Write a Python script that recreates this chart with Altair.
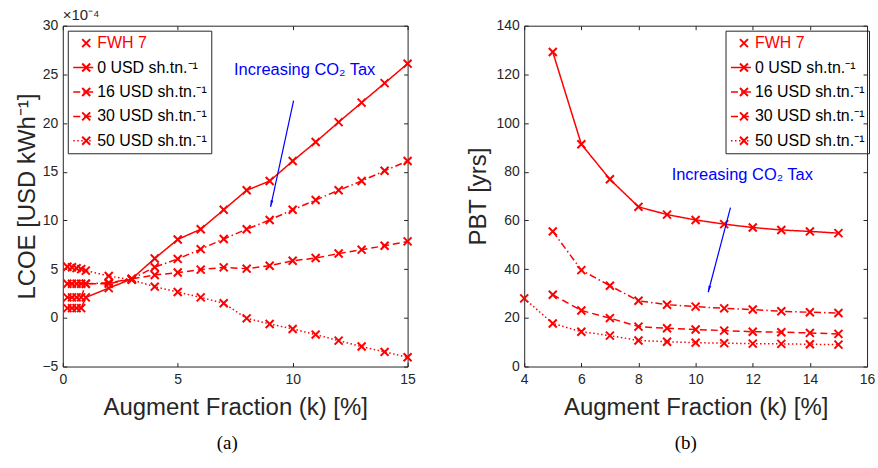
import math
import altair as alt
import pandas as pd

RED = "#ff0000"
BLUE = "#0000ff"
INK = "#262626"
FONT = "Liberation Sans"

SERIES = ["0 USD sh.tn.⁻¹", "16 USD sh.tn.⁻¹", "30 USD sh.tn.⁻¹", "50 USD sh.tn.⁻¹"]
MARKER_LABEL = "FWH 7"
LEGEND_DOMAIN = [MARKER_LABEL] + SERIES

# ---------------- panel (a): LCOE (x 1e-4 USD/kWh) ----------------
k_a = [0.2, 0.4, 0.6, 0.8, 1, 2, 3, 4, 5, 6, 7, 8, 9, 10, 11, 12, 13, 14, 15]
lcoe_0 = [1.0, 1.0, 1.0, 1.0, 2.1, 3.05, 4.0, 6.1, 8.05, 9.1, 11.1, 13.1, 14.05, 16.1, 18.05, 20.1, 22.1, 24.1, 26.1]
lcoe_16 = [2.1, 2.1, 2.1, 2.1, 3.5, 3.6, 4.0, 5.2, 6.05, 7.05, 8.1, 9.1, 10.05, 11.1, 12.1, 13.1, 14.05, 15.1, 16.1]
lcoe_30 = [3.5, 3.5, 3.5, 3.5, 3.5, 3.5, 4.0, 4.4, 4.65, 4.95, 5.18, 5.05, 5.35, 5.86, 6.14, 6.6, 7.0, 7.4, 7.85]
lcoe_50 = [5.25, 5.2, 5.1, 5.0, 4.85, 4.3, 3.9, 3.2, 2.65, 2.1, 1.5, -0.05, -0.63, -1.14, -1.72, -2.34, -2.95, -3.5, -4.05]

# ---------------- panel (b): PBT (years) ----------------
k_b = [4, 5, 6, 7, 8, 9, 10, 11, 12, 13, 14, 15]
pbt_0 = [None, 129.2, 91.3, 76.9, 65.6, 62.4, 60.2, 58.5, 57.1, 56.1, 55.5, 54.8]
pbt_16 = [None, 55.5, 39.6, 33.2, 27.0, 25.4, 24.6, 23.9, 23.4, 22.7, 22.3, 22.0]
pbt_30 = [None, 29.5, 23.0, 19.9, 16.4, 15.7, 15.2, 14.75, 14.3, 14.1, 13.8, 13.4]
pbt_50 = [28.0, 17.7, 14.3, 12.7, 10.7, 10.2, 9.8, 9.6, 9.4, 9.3, 9.15, 9.0]

# annotations ("Increasing CO2 Tax" text anchor, arrow start, arrow end) in data units
ANNOT_TEXT = "Increasing CO₂ Tax"
ann_a_text = (7.45, 25.4)
ann_a_arrow = (10.04, 22.3, 9.04, 11.4)
ann_b_text = (9.16, 78.5)
ann_b_arrow = (11.22, 65.3, 10.44, 30.5)

# axis setup
xdom_a, ydom_a = [0, 15], [-5, 30]
xdom_b, ydom_b = [4, 16], [0, 140]
xticks_a, yticks_a = [0, 5, 10, 15], [-5, 0, 5, 10, 15, 20, 25, 30]
xticks_b, yticks_b = [4, 6, 8, 10, 12, 14, 16], [0, 20, 40, 60, 80, 100, 120, 140]

W_A, W_B, H = 346, 344, 342

X_PATH = "M-1,-1L1,1M-1,1L1,-1"
HEAD_PATH = "M0,0L-0.45,2.2L0.45,2.2Z"
DASHES = [[0, 100], [1, 0], [7, 3, 1.5, 3], [7, 4], [1.5, 2.5]]


def long_frame(k, columns):
    rows = []
    for name, vals in zip(SERIES, columns):
        for kk, v in zip(k, vals):
            if v is not None:
                # "marker" carries the same names with a trailing space so that the
                # marker legend stays separate from the line-style legend
                rows.append({"k": kk, "v": v, "series": name, "marker": name + " "})
    return pd.DataFrame(rows)


def panel(df, xdom, ydom, xticks, yticks, width, ytitle, text_pos, arrow, leg_x, leg_y, caption, cap_dx,
          ytitle_pad, exponent=None):
    xs = alt.Scale(domain=xdom, nice=False, zero=False)
    ys = alt.Scale(domain=ydom, nice=False, zero=False)

    main_x = alt.Axis(values=xticks, title="Augment Fraction (k) [%]", orient="bottom", offset=-4,
                      tickSize=4, labelPadding=6, titlePadding=9, format="d", labelFlush=False)
    main_y = alt.Axis(values=yticks, title=ytitle, orient="left", offset=-4, tickSize=4,
                      labelPadding=5, titlePadding=ytitle_pad, format="d", labelFlush=False)

    leg_lines = alt.Legend(
        orient="none", legendX=leg_x, legendY=leg_y, title=None, symbolType="stroke",
        symbolSize=400, symbolStrokeWidth=1.5, symbolStrokeColor=RED, labelFont=FONT,
        labelFontSize=16, clipHeight=16, rowPadding=8.5, padding=4.5,
        strokeColor=INK, labelOffset=3, labelLimit=300,
        labelColor=alt.ExprRef("datum.label === 'FWH 7' ? '#ff0000' : '#000000'"),
    )
    leg_marks = alt.Legend(
        orient="none", legendX=leg_x + 6, legendY=leg_y, title=None, symbolSize=64,
        symbolStrokeWidth=2, symbolStrokeColor=RED, symbolFillColor="transparent",
        symbolType=X_PATH,
        labelFont=FONT, labelFontSize=16, labelOpacity=0, clipHeight=16, rowPadding=8.5,
        padding=4.5, labelOffset=3,
    )

    base = alt.Chart(df)
    lines = base.mark_line(color=RED, strokeWidth=1.5).encode(
        x=alt.X("k:Q", scale=xs, axis=main_x),
        y=alt.Y("v:Q", scale=ys, axis=main_y),
        strokeDash=alt.StrokeDash("series:N", scale=alt.Scale(domain=LEGEND_DOMAIN, range=DASHES), legend=leg_lines),
        detail="series:N",
    )
    pts = base.mark_point(stroke=RED, strokeWidth=2, filled=False, size=64, opacity=1).encode(
        x=alt.X("k:Q", scale=xs, axis=None),
        y=alt.Y("v:Q", scale=ys, axis=None),
        shape=alt.Shape("marker:N", scale=alt.Scale(domain=[n + " " for n in LEGEND_DOMAIN], range=[X_PATH] * 5),
                        legend=leg_marks),
    )

    # inward ticks on top / right edges
    ticks = base.mark_point(opacity=0).encode(
        x=alt.X("k:Q", scale=xs, axis=alt.Axis(orient="top", values=xticks, offset=-4, tickSize=4,
                                                labels=False, title=None, domain=False)),
        y=alt.Y("v:Q", scale=ys, axis=alt.Axis(orient="right", values=yticks, offset=-4, tickSize=4,
                                                labels=False, title=None, domain=False)),
    )

    ann_df = pd.DataFrame({"x": [text_pos[0]], "y": [text_pos[1]], "t": [ANNOT_TEXT]})
    txt = alt.Chart(ann_df).mark_text(color=BLUE, font=FONT, fontSize=16.5, align="left", baseline="middle").encode(
        x=alt.X("x:Q", scale=xs, axis=None), y=alt.Y("y:Q", scale=ys, axis=None), text="t:N")

    # arrow angle (screen space) derived from data and scale extents
    dxp = (arrow[2] - arrow[0]) * width / (xdom[1] - xdom[0])
    dyp = -(arrow[3] - arrow[1]) * H / (ydom[1] - ydom[0])
    ang = (math.degrees(math.atan2(dxp, -dyp)) + 360) % 360
    arr_df = pd.DataFrame({"x": [arrow[0]], "y": [arrow[1]], "x2": [arrow[2]], "y2": [arrow[3]]})
    shaft = alt.Chart(arr_df).mark_rule(color=BLUE, strokeWidth=1.2).encode(
        x=alt.X("x:Q", scale=xs, axis=None), y=alt.Y("y:Q", scale=ys, axis=None), x2="x2:Q", y2="y2:Q")
    head = alt.Chart(arr_df).mark_point(shape=HEAD_PATH, filled=True, color=BLUE, size=36, angle=ang, opacity=1).encode(
        x=alt.X("x2:Q", scale=xs, axis=None), y=alt.Y("y2:Q", scale=ys, axis=None))

    layers = [lines, pts, ticks, txt, shaft, head]
    if exponent:
        exp_df = pd.DataFrame({"t": [exponent]})
        layers.append(alt.Chart(exp_df).mark_text(font=FONT, fontSize=15, color=INK, align="left",
                                                  baseline="alphabetic").encode(
            text="t:N", x=alt.value(0), y=alt.value(-6)))

    return alt.layer(*layers).resolve_axis(x="independent", y="independent").properties(
        width=width, height=H,
        title=alt.TitleParams(caption, orient="bottom", font="Liberation Serif", fontSize=19,
                              fontWeight="normal", color="#000000", offset=15, dx=cap_dx),
    )


df_a = long_frame(k_a, [lcoe_0, lcoe_16, lcoe_30, lcoe_50])
df_b = long_frame(k_b, [pbt_0, pbt_16, pbt_30, pbt_50])

pa = panel(df_a, xdom_a, ydom_a, xticks_a, yticks_a, W_A, "LCOE [USD kWh⁻¹]", ann_a_text, ann_a_arrow,
           5, 5, "(a)", -8, 2, exponent="×10⁻⁴")
pb = panel(df_b, xdom_b, ydom_b, xticks_b, yticks_b, W_B, "PBT [yrs]", ann_b_text, ann_b_arrow,
           202, 5, "(b)", -10, 5)

chart = alt.hconcat(pa, pb, spacing=50).resolve_scale(
    strokeDash="independent", shape="independent").resolve_legend(
    strokeDash="independent", shape="independent").properties(
    padding={"left": 15, "top": 6, "right": 2, "bottom": 2}, background="white",
).configure_view(stroke=INK, strokeWidth=1).configure_axis(
    labelFont=FONT, labelFontSize=14, labelColor=INK, titleFont=FONT, titleFontSize=24,
    titleFontWeight="normal", titleColor=INK, tickColor=INK, tickWidth=1, grid=False, domain=False,
).configure_title(font="Liberation Serif")

chart.save("out.html", embed_options={"renderer": "svg", "actions": False})
